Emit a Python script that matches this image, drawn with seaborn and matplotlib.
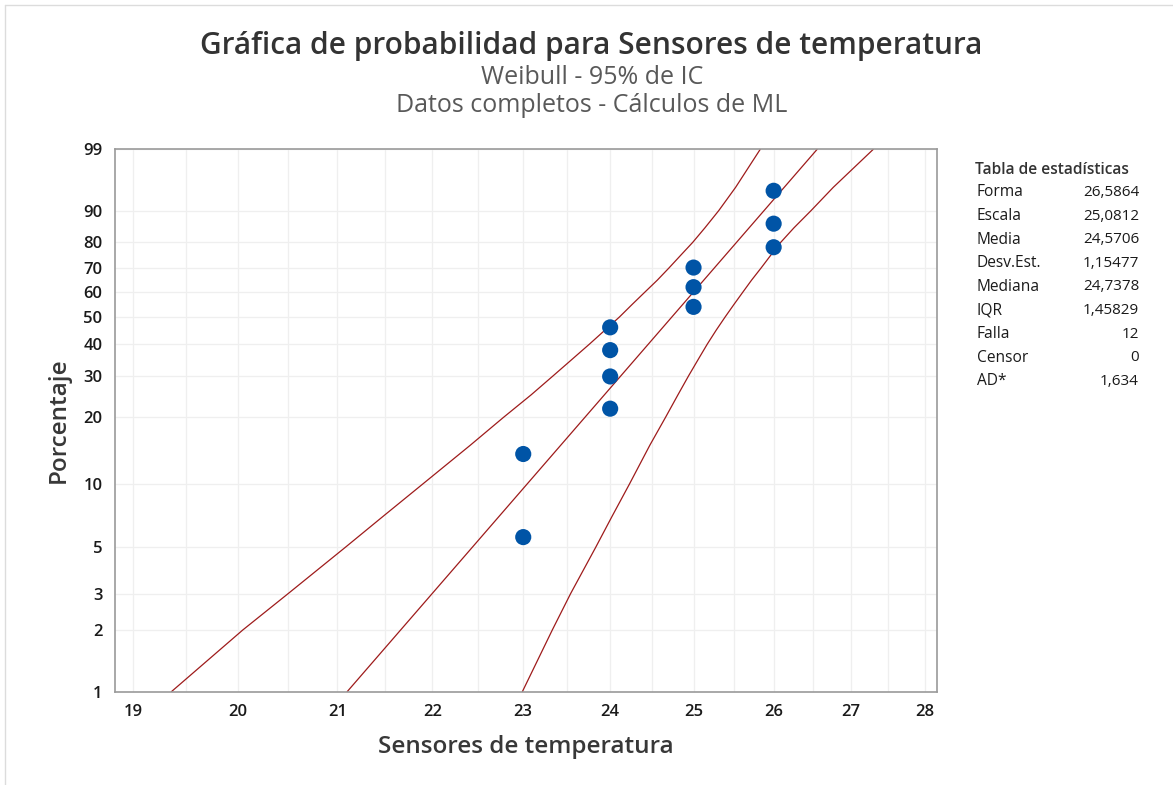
import numpy as np
import pandas as pd
import matplotlib
matplotlib.use("Agg")
import matplotlib.pyplot as plt
from matplotlib.ticker import FixedLocator, NullFormatter
from matplotlib.lines import Line2D
import seaborn as sns

# ---------------- data ----------------
temps = [23, 23, 24, 24, 24, 24, 25, 25, 25, 26, 26, 26]
pcts = [5.6, 13.7, 21.8, 29.8, 37.9, 46.0, 54.0, 62.1, 70.2, 78.2, 86.3, 94.4]

fit_pct = [1, 99]
fit_x = [21.10, 26.56]

band_pct = [1, 2, 3, 5, 7, 10, 15, 20, 25, 30, 35, 40, 45, 50, 55, 60, 65, 70,
            75, 80, 85, 90, 95, 99]
upper_x = [19.36, 20.05, 20.50, 21.08, 21.47, 21.90, 22.41, 22.78, 23.09, 23.34,
           23.56, 23.76, 23.94, 24.11, 24.26, 24.41, 24.56, 24.70, 24.84, 24.99,
           25.14, 25.31, 25.52, 25.83]
lower_x = [22.99, 23.33, 23.54, 23.83, 24.02, 24.23, 24.47, 24.66, 24.81, 24.94,
           25.06, 25.17, 25.28, 25.39, 25.50, 25.61, 25.72, 25.84, 25.96, 26.09,
           26.26, 26.48, 26.77, 27.30]

xticks = [19, 20, 21, 22, 23, 24, 25, 26, 27, 28]
xminor = [19.5, 20.5, 21.5, 22.5, 23.5, 24.5, 25.5, 26.5, 27.5]
yticks = [1, 2, 3, 5, 10, 20, 30, 40, 50, 60, 70, 80, 90, 99]

stat_labels = ["Forma", "Escala", "Media", "Desv.Est.", "Mediana", "IQR", "Falla", "Censor", "AD*"]
stat_values = ["26,5864", "25,0812", "24,5706", "1,15477", "24,7378", "1,45829", "12", "0", "1,634"]

title = "Gráfica de probabilidad para Sensores de temperatura"
subtitle1 = "Weibull - 95% de IC"
subtitle2 = "Datos completos - Cálculos de ML"
xlabel = "Sensores de temperatura"
ylabel = "Porcentaje"

# ---------------- style ----------------
sns.set_style("white")
plt.rcParams["font.family"] = ["Open Sans", "DejaVu Sans"]

W, H = 1173, 785
fig = plt.figure(figsize=(W / 100, H / 100), dpi=100)
fig.patch.set_facecolor("white")

def fx(x):
    return x / W

def fy(y):
    return 1 - y / H

left, right, top, bottom = 115, 937, 149.3, 691.7
ax = fig.add_axes([fx(left), fy(bottom), (right - left) / W, (bottom - top) / H])

# Weibull probability scale
def fwd(p):
    p = np.clip(np.asarray(p, dtype=float), 1e-6, 100 - 1e-6)
    return np.log(-np.log(1 - p / 100.0))

def inv(w):
    w = np.asarray(w, dtype=float)
    return 100.0 * (1 - np.exp(-np.exp(w)))

ax.set_xscale("log")
ax.set_yscale("function", functions=(fwd, inv))
ax.set_xlim(18.833, 28.165)
ax.set_ylim(1, 99)

line_color = "#9e1b1b"
df_fit = pd.DataFrame({"x": fit_x, "p": fit_pct})
df_up = pd.DataFrame({"x": upper_x, "p": band_pct})
df_lo = pd.DataFrame({"x": lower_x, "p": band_pct})
for d in (df_up, df_fit, df_lo):
    sns.lineplot(data=d, x="x", y="p", ax=ax, color=line_color, linewidth=0.9,
                 estimator=None, sort=False, zorder=2)

sns.scatterplot(x=temps, y=pcts, ax=ax, s=135, color="#0054a6",
                edgecolor="none", marker="o", zorder=3)

# ticks & grid
ax.xaxis.set_major_locator(FixedLocator(xticks))
ax.xaxis.set_minor_locator(FixedLocator(xminor))
ax.set_xticklabels([str(t) for t in xticks])
ax.xaxis.set_minor_formatter(NullFormatter())
ax.yaxis.set_major_locator(FixedLocator(yticks))
ax.yaxis.set_minor_locator(FixedLocator([]))
ax.set_yticklabels([str(t) for t in yticks])

ax.tick_params(axis="both", which="major", direction="out", length=5, width=1,
               color="#8a8a8a", labelsize=12, labelcolor="#1a1a1a", pad=4)
ax.tick_params(axis="x", which="minor", length=0)
for lab in ax.get_xticklabels() + ax.get_yticklabels():
    lab.set_fontweight("semibold")
ax.grid(True, which="both", color="#efefef", linewidth=0.9)
ax.set_axisbelow(True)
for s in ax.spines.values():
    s.set_color("#9a9a9a")
    s.set_linewidth(1.2)

ax.set_xlabel(xlabel, fontsize=17.5, color="#383838", fontweight="semibold")
ax.set_ylabel(ylabel, fontsize=17.5, color="#383838", fontweight="semibold")
ax.xaxis.set_label_coords(0.5, (bottom - 735) / (bottom - top))
ax.yaxis.set_label_coords((71 - left) / (right - left), 0.5)

# titles
fig.text(fx(591), fy(46), title, ha="center", va="center", fontsize=21.5,
         fontweight="semibold", color="#333333")
fig.text(fx(592), fy(77), subtitle1, ha="center", va="center", fontsize=18,
         color="#595959")
fig.text(fx(592), fy(105), subtitle2, ha="center", va="center", fontsize=18,
         color="#595959")

# statistics table
fig.text(fx(975), fy(170), "Tabla de estadísticas", ha="left", va="center",
         fontsize=11.2, fontweight="semibold", color="#333333")
for i, (lab, val) in enumerate(zip(stat_labels, stat_values)):
    yy = 192.5 + i * 23.6
    fig.text(fx(977), fy(yy), lab, ha="left", va="center", fontsize=11.2,
             fontweight="medium", color="#1a1a1a")
    fig.text(fx(1139), fy(yy), val, ha="right", va="center", fontsize=11,
             color="#1a1a1a")

# faint window border
fig.add_artist(Line2D([fx(5), fx(5)], [fy(5), fy(785)], color="#dcdcdc", linewidth=1))
fig.add_artist(Line2D([fx(5), fx(1173)], [fy(5), fy(5)], color="#dcdcdc", linewidth=1))

fig.savefig("out.png", dpi=100, facecolor="white")
